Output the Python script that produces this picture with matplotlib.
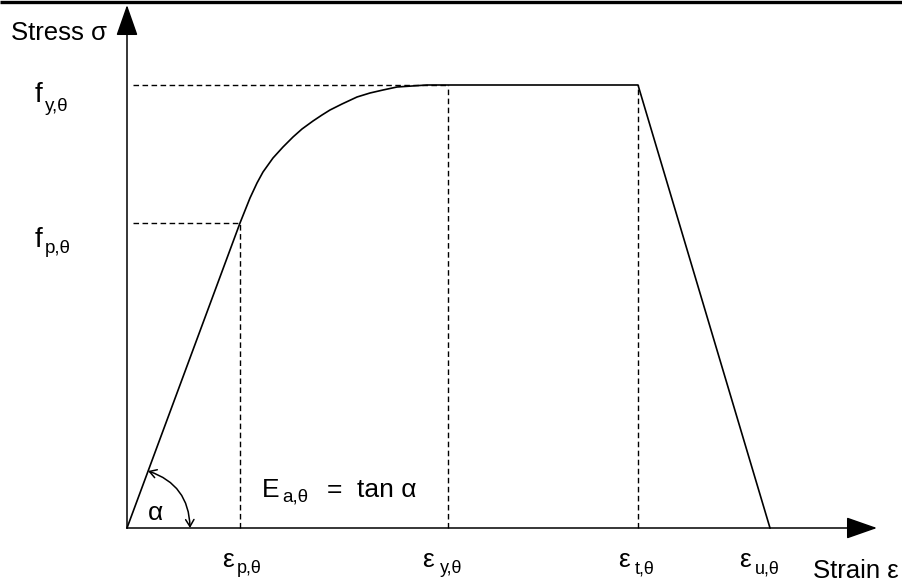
import matplotlib.pyplot as plt
from matplotlib.patches import FancyArrowPatch

plt.rcParams['font.family'] = ['Liberation Sans', 'DejaVu Sans']

# strain / stress levels (scaled units)
eps_p, eps_y, eps_t, eps_u = 1.13, 3.21, 5.11, 6.43
f_p, f_y = 3.05, 4.43

# stress-strain curve
curve_x = [0.0, 1.13, 1.17, 1.23, 1.30, 1.36, 1.46, 1.56, 1.66, 1.75, 1.86, 1.95, 2.03,
           2.15, 2.30, 2.43, 2.56, 2.70, 2.85, 3.00, 3.20, 5.11, 6.43]
curve_y = [0.0, 3.05, 3.15, 3.30, 3.45, 3.56, 3.70, 3.81, 3.91, 3.99, 4.07, 4.13, 4.18,
           4.24, 4.31, 4.35, 4.38, 4.41, 4.42, 4.43, 4.43, 4.43, 0.0]

# (x of symbol, symbol, subscript, x of subscript)
eps_labels = [
    (eps_p - 0.18, 'ε', 'p,θ', eps_p - 0.03),
    (eps_y - 0.26, 'ε', 'y,θ', eps_y - 0.08),
    (eps_t - 0.20, 'ε', 't,θ', eps_t - 0.03),
    (eps_u - 0.31, 'ε', 'u,θ', eps_u - 0.15),
]

fig = plt.figure(figsize=(9.03, 5.82), dpi=100)
ax = fig.add_axes([0, 0, 1, 1])
ax.set_xlim(-1.27, 7.76)
ax.set_ylim(-0.54, 5.28)
ax.axis('off')

# frame line at the top of the scan
ax.plot([-1.27, 7.76], [5.265, 5.265], color='black', lw=2.4, solid_capstyle='butt')

# axes with arrows
arr = dict(arrowstyle='-|>,head_length=0.97,head_width=0.34', mutation_scale=20,
           lw=1.1, color='black', shrinkA=0, shrinkB=0)
ax.annotate('', xy=(0, 5.23), xytext=(0, 0), arrowprops=arr)
ax.annotate('', xy=(7.50, 0), xytext=(0, 0), arrowprops=arr)

# dashed guide lines
dash = dict(color='black', lw=1.0, dashes=(4, 2.5))
ax.plot([0.06, eps_y], [f_y, f_y], **dash)
ax.plot([0.06, eps_p], [f_p, f_p], **dash)
ax.plot([eps_p, eps_p], [0, f_p], **dash)
ax.plot([eps_y, eps_y], [0, f_y], **dash)
ax.plot([eps_t, eps_t], [0, f_y], **dash)

# curve
ax.plot(curve_x, curve_y, color='black', lw=1.2, solid_joinstyle='round')

# angle arc with arrows
arc = FancyArrowPatch((0.21, 0.57), (0.63, 0.0), connectionstyle='arc3,rad=-0.35',
                      arrowstyle='<->,head_length=5,head_width=3', lw=1.1,
                      color='black', shrinkA=0, shrinkB=0)
ax.add_patch(arc)
ax.text(0.21, 0.08, 'α', fontsize=19, va='baseline')

# texts
ax.text(-1.16, 4.88, 'Stress σ', fontsize=18.5, va='baseline')
ax.text(6.86, -0.50, 'Strain ε', fontsize=18.5, va='baseline')

ax.text(-0.92, 4.26, 'f', fontsize=20, va='baseline')
ax.text(-0.82, 4.17, 'y,θ', fontsize=13.5, va='baseline')
ax.text(-0.92, 2.81, 'f', fontsize=20, va='baseline')
ax.text(-0.82, 2.75, 'p,θ', fontsize=13.5, va='baseline')

for x, sym, sub, xs in eps_labels:
    ax.text(x, -0.39, sym, fontsize=19, va='baseline')
    ax.text(xs, -0.45, sub, fontsize=13, va='baseline')

ax.text(1.35, 0.31, 'E', fontsize=19, va='baseline')
ax.text(1.55, 0.27, 'a,θ', fontsize=13.5, va='baseline')
ax.text(2.00, 0.31, '=', fontsize=19, va='baseline')
ax.text(2.30, 0.31, 'tan α', fontsize=19, va='baseline')

fig.savefig('out.png', dpi=100)
